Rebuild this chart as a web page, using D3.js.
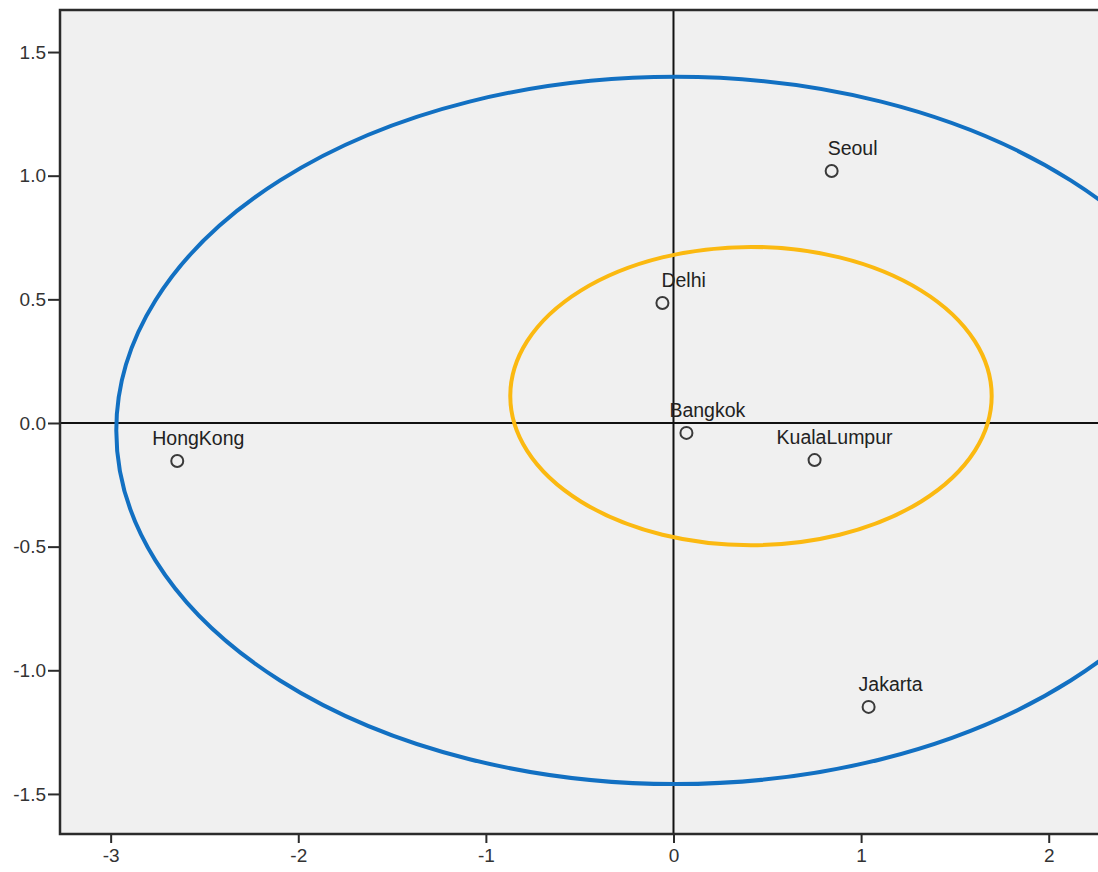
<!DOCTYPE html>
<html>
<head>
<meta charset="utf-8">
<script src="https://cdn.jsdelivr.net/npm/d3@7"></script>
<style>
  html, body { margin: 0; padding: 0; background: #ffffff; }
  svg { display: block; font-family: "Liberation Sans", Arial, sans-serif; }
</style>
</head>
<body>
<svg id="chart" width="1098" height="872"></svg>
<script>
// City coordinates on the two dimensions
const cities = ["Seoul", "Delhi", "Bangkok", "KualaLumpur", "HongKong", "Jakarta"];
const dim1 = [0.843, -0.059, 0.069, 0.752, -2.645, 1.040];
const dim2 = [1.019, 0.485, -0.040, -0.150, -0.154, -1.148];

// Grouping ellipses: centre and radii in data units
const ellipseNames = ["outer", "inner"];
const ellipseCx = [0.01, 0.413];
const ellipseCy = [-0.03, 0.109];
const ellipseRx = [2.98, 1.283];
const ellipseRy = [1.43, 0.603];

// Axis ticks
const xTicks = [-3, -2, -1, 0, 1, 2];
const yTicks = [-1.5, -1.0, -0.5, 0.0, 0.5, 1.0, 1.5];

// Label placement (pixels, relative to each marker)
const labelDx = [-4, -1, -17, -38, -25, -10];
const labelDy = -16;
const ellipseColors = ["#1270c2", "#fbb911"];

const svg = d3.select("#chart");
const plotLeft = 60, plotTop = 10, plotBottom = 834, plotRight = 1105;

const x = d3.scaleLinear().domain([-3.27, 2.3]).range([plotLeft, plotRight]);
const y = d3.scaleLinear().domain([-1.662, 1.67]).range([plotBottom, plotTop]);

// plain hyphen for negative numbers
const hyph = f => v => f(v).replace("\u2212", "-");

svg.append("defs").append("clipPath").attr("id", "plotClip")
  .append("rect").attr("x", plotLeft).attr("y", plotTop)
  .attr("width", plotRight - plotLeft).attr("height", plotBottom - plotTop);

// plot background
svg.append("rect")
  .attr("x", plotLeft).attr("y", plotTop)
  .attr("width", plotRight - plotLeft).attr("height", plotBottom - plotTop)
  .attr("fill", "#f0f0f0");

const plot = svg.append("g").attr("clip-path", "url(#plotClip)");

// zero reference lines
plot.append("line")
  .attr("x1", x(0)).attr("x2", x(0)).attr("y1", plotTop).attr("y2", plotBottom)
  .attr("stroke", "#111").attr("stroke-width", 2);
plot.append("line")
  .attr("x1", plotLeft).attr("x2", plotRight).attr("y1", y(0)).attr("y2", y(0))
  .attr("stroke", "#111").attr("stroke-width", 2);

// ellipses
plot.selectAll("ellipse.group")
  .data(ellipseNames.map((n, i) => ({n, cx: ellipseCx[i], cy: ellipseCy[i], rx: ellipseRx[i], ry: ellipseRy[i], c: ellipseColors[i]})))
  .enter().append("ellipse")
  .attr("class", "group")
  .attr("cx", d => x(d.cx))
  .attr("cy", d => y(d.cy))
  .attr("rx", d => x(d.rx) - x(0))
  .attr("ry", d => y(0) - y(d.ry))
  .attr("fill", "none")
  .attr("stroke", d => d.c)
  .attr("stroke-width", 4);

// points and labels
const pts = cities.map((c, i) => ({c, x: dim1[i], y: dim2[i], dx: labelDx[i]}));

plot.selectAll("circle.pt").data(pts).enter().append("circle")
  .attr("class", "pt")
  .attr("cx", d => x(d.x)).attr("cy", d => y(d.y))
  .attr("r", 6)
  .attr("fill", "none")
  .attr("stroke", "#3a3a3a")
  .attr("stroke-width", 2);

plot.selectAll("text.lbl").data(pts).enter().append("text")
  .attr("class", "lbl")
  .attr("x", d => x(d.x) + d.dx)
  .attr("y", d => y(d.y) + labelDy)
  .attr("font-size", 19.5)
  .attr("fill", "#222")
  .text(d => d.c);

// frame
svg.append("path")
  .attr("d", `M${plotRight},${plotTop}H${plotLeft}V${plotBottom}H${plotRight}`)
  .attr("fill", "none")
  .attr("stroke", "#2b2b2b")
  .attr("stroke-width", 2.5);

// axes
const yAxis = svg.append("g")
  .attr("transform", `translate(${plotLeft},0)`)
  .call(d3.axisLeft(y).tickValues(yTicks).tickFormat(hyph(d3.format(".1f"))).tickSize(12).tickPadding(2));
const xAxis = svg.append("g")
  .attr("transform", `translate(0,${plotBottom})`)
  .call(d3.axisBottom(x).tickValues(xTicks).tickFormat(hyph(d3.format("d"))).tickSize(9).tickPadding(6));

[yAxis, xAxis].forEach(g => {
  g.select(".domain").remove();
  g.selectAll(".tick line").attr("stroke", "#2b2b2b").attr("stroke-width", 2);
  g.selectAll(".tick text").attr("font-size", 19).attr("fill", "#333")
    .attr("font-family", "'Liberation Sans', Arial, sans-serif");
});
</script>
</body>
</html>
